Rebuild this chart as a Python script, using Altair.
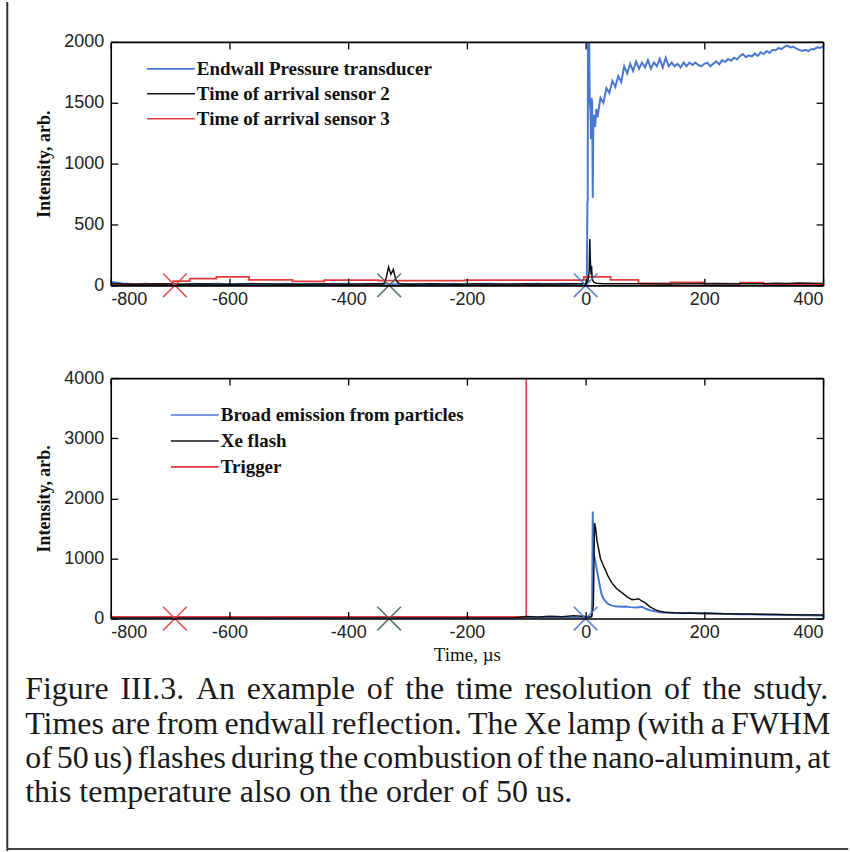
import altair as alt
import pandas as pd

# ------------------------------------------------------------------ data
XTICKS = [-800, -600, -400, -200, 0, 200, 400]
YTICKS_TOP = [0, 500, 1000, 1500, 2000]
YTICKS_BOT = [0, 1000, 2000, 3000, 4000]

# top panel: Endwall pressure transducer (blue)
top_blue_t = [-800, -780, -760, -740, -720, -700, -680, -660, -640, -620,
              -600, -580, -560, -540, -520, -500, -480, -460, -440, -420,
              -400, -380, -360, -340, -320, -300, -280, -260, -240, -220,
              -200, -180, -160, -140, -120, -100, -80, -60, -40, -20,
              0, 1, 2, 3, 3.5, 4, 6, 7, 8, 9,
              10, 11, 12, 13, 14, 16, 18, 20,
              25, 30, 35, 40, 45, 50, 55, 60, 65, 70,
              75, 80, 85, 90, 95, 100, 105, 110, 115, 120,
              125, 130, 135, 140, 145, 150, 155, 160, 165, 170,
              175, 180, 185, 190, 195, 200, 205, 210, 215, 220,
              225, 230, 235, 240, 245, 250, 255, 260, 265, 270,
              275, 280, 285, 290, 295, 300, 305, 310, 315, 320,
              325, 330, 335, 340, 345, 350, 355, 360, 365, 370,
              375, 380, 385, 390, 395, 400]
top_blue_v = [30, 15, 8, 12, 5, 10, 6, 12, 8, 14,
              6, 10, 12, 7, 9, 14, 8, 11, 6, 10,
              12, 7, 10, 14, 8, 10, 6, 11, 9, 13,
              7, 10, 12, 8, 11, 9, 13, 8, 12, 10,
              12, 10, 20, 680, 690, 2000, 2000, 1500, 1450, 1200,
              1540, 1500, 720, 1350, 1400, 1300, 1450, 1380,
              1540, 1500, 1620, 1580, 1680, 1630, 1720, 1670, 1800, 1740,
              1820, 1760, 1840, 1780, 1830, 1790, 1850, 1780, 1830, 1800,
              1860, 1790, 1870, 1800, 1830, 1800, 1820, 1790, 1830, 1800,
              1830, 1810, 1830, 1810, 1800, 1820, 1830, 1800, 1820, 1840,
              1815, 1850, 1835, 1860, 1845, 1870, 1855, 1885, 1900, 1875,
              1890, 1880, 1905, 1885, 1915, 1900, 1925, 1910, 1935, 1930,
              1950, 1940, 1960, 1970, 1955, 1960, 1945, 1935, 1925, 1935,
              1925, 1940, 1940, 1955, 1950, 1965]

# top panel: time of arrival sensor 2 (black)
top_black_t = [-800, -760, -720, -680, -640, -600, -560, -520, -480, -440,
               -400, -360, -340, -336, -332, -328, -324, -320, -316, -312,
               -300, -260, -220, -180, -140, -100, -60, -20, 0, 4,
               6, 7, 8, 9, 10, 11, 12, 14, 18, 30,
               60, 100, 140, 180, 220, 260, 300, 320, 340, 360,
               380, 400]
top_black_v = [12, 8, 14, 9, 12, 8, 13, 10, 8, 12,
               9, 13, 12, 60, 150, 90, 130, 50, 20, 12,
               9, 13, 8, 12, 9, 13, 10, 12, 14, 30,
               120, 380, 200, 90, 160, 60, 40, 25, 18, 14,
               12, 13, 10, 14, 16, 12, 14, 18, 16, 19,
               17, 16]

# top panel: time of arrival sensor 3 (red, stepped)
top_red_t = [-800, -695, -667, -622, -567, -494, -440, -349, -203, -3,
             42, 89, 143, 200, 260, 300, 400]
top_red_v = [8, 35, 55, 70, 45, 32, 42, 38, 42, 70,
             45, 15, 25, 12, 22, 10, 10]

# bottom panel: broad emission from particles (blue)
bot_blue_t = [-800, -750, -700, -650, -600, -550, -500, -450, -400, -350,
              -300, -250, -200, -150, -100, -50, 0,
              5, 10, 11, 12, 13, 14, 16, 18, 21, 24,
              27, 30, 35, 39, 45, 50, 55, 60, 67, 75,
              85, 95, 100, 105, 110, 117, 125, 130, 140, 151,
              165, 175, 190, 207, 220, 230, 245, 260, 275, 291,
              305, 320, 335, 350, 365, 380, 390, 400]
bot_blue_v = [8, 12, 6, 10, 9, 13, 7, 10, 12, 8,
              11, 9, 12, 8, 10, 12, 10,
              20, 40, 300, 1780, 1100, 1060, 980, 860, 700, 540,
              400, 330, 270, 235, 215, 205, 200, 195, 200, 190,
              185, 195, 170, 150, 135, 120, 105, 100, 95, 94,
              90, 95, 88, 92, 85, 80, 76, 72, 70, 66,
              64, 62, 60, 58, 56, 55, 52, 50]

# bottom panel: Xe flash (black)
bot_black_t = [-800, -400, -120, -100, -80, -60, -40, -20, 0,
               5, 10, 13, 15, 17, 19, 21, 25, 29, 33,
               38, 44, 52, 61, 70, 78, 85, 89, 95, 100,
               108, 117, 125, 134, 150, 175, 200, 230, 260, 300,
               350, 400]
bot_black_v = [10, 10, 10, 35, 25, 40, 30, 45, 35,
               25, 30, 200, 1590, 1500, 1300, 1200, 1000, 900, 813,
               700, 597, 500, 431, 360, 315, 320, 330, 290, 265,
               200, 149, 120, 105, 95, 90, 85, 80, 75, 70,
               65, 60]

# bottom panel: trigger (red, stepped)
bot_red_t = [-800, -100, 400]
bot_red_v = [30, 4000, 4000]

# arrival markers (X)
marker_t = [-692, -331, 0]
marker_c = ["#e04545", "#50685a", "#4a78d0"]

legend_top = ["Endwall Pressure transducer", "Time of arrival sensor 2", "Time of arrival sensor 3"]
legend_bot = ["Broad emission from particles", "Xe flash", "Trigger"]

caption_lines = [
    "Figure III.3. An example of the time resolution of the study.",
    "Times are from endwall reflection. The Xe lamp (with a FWHM",
    "of 50 us) flashes during the combustion of the nano-aluminum, at",
    "this temperature also on the order of 50 us.",
]

# ------------------------------------------------------------------ style / layout
BLUE = "#4a78d0"
RED = "#e23c3c"
BLACK = "#111111"
SANS = "Liberation Sans"
SERIF = "Liberation Serif"

PX0 = 110.7      # plot-area left edge on the page
PY0 = 41         # top plot-area top edge on the page
W = 714
H1 = 244
H2 = 241
GAP = 93
BORDER_X = 7
XPATH = "M-1,-1L1,1M-1,1L1,-1"
LABEL_EXPR = "'' + datum.value"


def df(t, v):
    return pd.DataFrame({"t": t, "v": v})


def xenc(axis):
    return alt.X("t:Q", scale=alt.Scale(domain=[-800, 400], nice=False, zero=False), axis=axis)


def yenc(axis, top):
    return alt.Y("v:Q", scale=alt.Scale(domain=[0, top], nice=False, zero=False), axis=axis)


def panel(series, ytop, yticks, h, legend_labels, legend_colors, leg_x, leg_y, leg_dy,
          xtitle, extra=None):
    common = dict(labels=False, title=None, grid=False, domain=True, domainColor="#000",
                  domainWidth=1.6, ticks=True, tickSize=7, tickColor="#000", tickWidth=1.3,
                  zindex=2)
    ax_bottom_edge = alt.Axis(orient="top", offset=-h, values=XTICKS, **common)
    ax_top_edge = alt.Axis(orient="bottom", offset=-h, values=XTICKS, **common)
    ax_left_edge = alt.Axis(orient="right", offset=-W, values=yticks, **common)
    ax_right_edge = alt.Axis(orient="left", offset=-W, values=yticks, **common)
    ax_xlab = alt.Axis(orient="bottom", values=XTICKS, ticks=False, domain=False, grid=False,
                       labelPadding=5, labelFont=SANS, labelFontSize=18, labelColor="#222",
                       labelExpr=LABEL_EXPR,
                       title=xtitle, titleFont=SERIF, titleFontSize=19, titleFontWeight="normal",
                       titleColor="#111", titlePadding=4)
    ax_ylab = alt.Axis(orient="left", values=yticks, ticks=False, domain=False, grid=False,
                       labelPadding=7, labelFont=SANS, labelFontSize=18, labelColor="#222",
                       labelExpr=LABEL_EXPR,
                       title="Intensity, arb.", titleFont=SERIF, titleFontSize=18,
                       titleFontWeight="bold", titleColor="#111", titlePadding=10)
    axes = [(ax_xlab, ax_ylab), (ax_bottom_edge, ax_left_edge), (ax_top_edge, ax_right_edge)]
    layers = []
    for i, (d, color, width, interp) in enumerate(series):
        axx, axy = axes[i] if i < len(axes) else (None, None)
        layers.append(
            alt.Chart(d).mark_line(color=color, strokeWidth=width, interpolate=interp, clip=True)
            .encode(x=xenc(axx), y=yenc(axy, ytop))
        )
    mk = pd.DataFrame({"t": marker_t, "v": [0] * len(marker_t), "c": marker_c})
    layers.append(
        alt.Chart(mk).mark_point(shape=XPATH, filled=False, size=560, strokeWidth=1.6, opacity=0.9)
        .encode(x=xenc(None), y=yenc(None, ytop), color=alt.Color("c:N", scale=None))
    )
    one = pd.DataFrame({"a": [0]})
    for i, (lab, col) in enumerate(zip(legend_labels, legend_colors)):
        yy = leg_y + i * leg_dy
        layers.append(alt.Chart(one).mark_rule(color=col, strokeWidth=1.6)
                      .encode(x=alt.value(leg_x), x2=alt.value(leg_x + 48), y=alt.value(yy)))
        layers.append(alt.Chart(one).mark_text(align="left", baseline="middle", font=SERIF,
                                               fontSize=19, fontWeight="bold", color="#111")
                      .encode(x=alt.value(leg_x + 50), y=alt.value(yy), text=alt.value(lab)))
    if extra:
        layers.extend(extra)
    return alt.layer(*layers).resolve_axis(x="independent", y="independent").properties(
        width=W, height=h)


one = pd.DataFrame({"a": [0]})
border = [
    alt.Chart(one).mark_rule(color="#333", strokeWidth=2).encode(
        x=alt.value(BORDER_X - PX0), y=alt.value(-PY0 + 1), y2=alt.value(852 - PY0)),
    alt.Chart(one).mark_rule(color="#444", strokeWidth=2).encode(
        x=alt.value(BORDER_X - PX0), x2=alt.value(850 - PX0), y=alt.value(850 - PY0)),
]

top = panel(
    [(df(top_blue_t, top_blue_v), BLUE, 2.0, "linear"),
     (df(top_red_t, top_red_v), RED, 1.8, "step-after"),
     (df(top_black_t, top_black_v), BLACK, 1.5, "linear")],
    2000, YTICKS_TOP, H1, legend_top, [BLUE, BLACK, RED],
    147 - PX0, 68 - PY0, 25, None, extra=border,
)

bot_y0 = PY0 + H1 + GAP
bottom = panel(
    [(df(bot_blue_t, bot_blue_v), BLUE, 2.0, "linear"),
     (df(bot_red_t, bot_red_v), RED, 1.6, "step-after"),
     (df(bot_black_t, bot_black_v), BLACK, 1.5, "linear")],
    4000, YTICKS_BOT, H2, legend_bot, [BLUE, BLACK, RED],
    171 - PX0, 415 - bot_y0, 26, "Time, µs",
)

# caption (justified like the printed page)
TW = {" ": 250, "(": 333, ")": 333, ",": 250, "-": 333, ".": 250, "0": 500, "3": 500, "5": 500,
      "A": 722, "F": 556, "H": 722, "I": 333, "M": 889, "T": 611, "W": 944, "X": 722,
      "a": 444, "b": 500, "c": 444, "d": 500, "e": 444, "f": 333, "g": 500, "h": 500, "i": 278,
      "j": 278, "k": 500, "l": 278, "m": 778, "n": 500, "o": 500, "p": 500, "q": 500, "r": 333,
      "s": 389, "t": 278, "u": 500, "v": 500, "w": 722, "x": 500, "y": 500, "z": 444}
FS = 32
CAP_LEFT = 25
CAP_RIGHT = 832
CAP_BASE = [700, 734.5, 768.5, 803]
cap_y0 = bot_y0 + H2 + GAP
rows = []
for i, line in enumerate(caption_lines):
    words = line.split(" ")
    widths = [sum(TW.get(ch, 500) for ch in w) * FS / 1000 for w in words]
    if i < len(caption_lines) - 1:
        gap = (CAP_RIGHT - CAP_LEFT - sum(widths)) / (len(words) - 1)
    else:
        gap = 250 * FS / 1000
    x = CAP_LEFT
    for w, wd in zip(words, widths):
        rows.append({"w": w, "px": x - PX0, "py": CAP_BASE[i] - cap_y0})
        x += wd + gap
cap_df = pd.DataFrame(rows)
caption = alt.Chart(cap_df).mark_text(align="left", baseline="alphabetic", font=SERIF,
                                      fontSize=FS, color="#1a1a1a").encode(
    x=alt.X("px:Q", scale=None, axis=None),
    y=alt.Y("py:Q", scale=None, axis=None),
    text="w:N",
).properties(width=W, height=1)

chart = alt.vconcat(top, bottom, caption, spacing=GAP, bounds="flush").properties(
    padding={"left": 6, "top": 0, "right": 0, "bottom": 0},
    background="white",
).configure_view(stroke=None)

chart.save("out.html", embed_options={"renderer": "svg", "actions": False})
